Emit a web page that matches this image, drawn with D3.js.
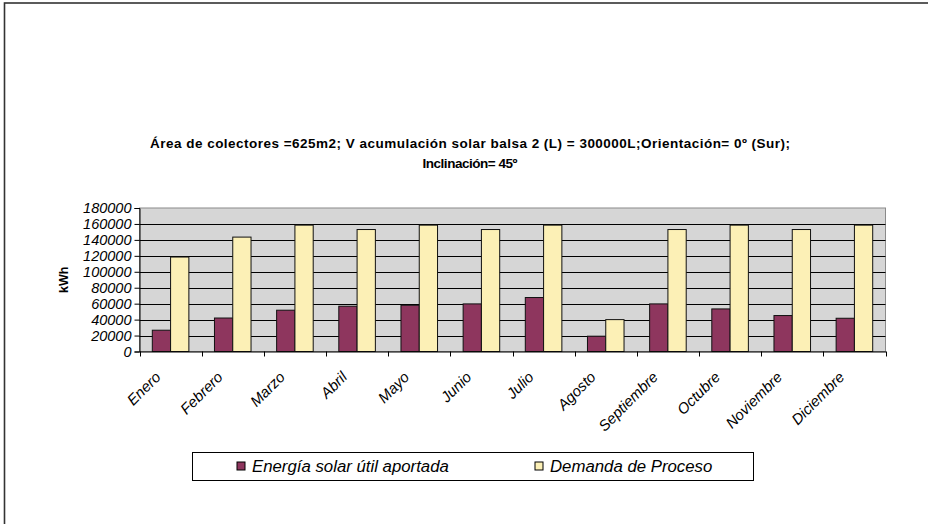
<!DOCTYPE html>
<html><head><meta charset="utf-8">
<script src="https://cdn.jsdelivr.net/npm/d3@7"></script>
<style>body{margin:0;background:#fff}svg{display:block;font-family:"Liberation Sans",Arial,sans-serif}</style>
</head><body><svg id="c" width="928" height="524"></svg>
<script>
const categories = ["Enero","Febrero","Marzo","Abril","Mayo","Junio","Julio","Agosto","Septiembre","Octubre","Noviembre","Diciembre"];
const solarValues = [26700,42000,51800,56800,58000,59700,67700,19200,59700,53400,45100,41700];
const demandValues = [118500,143500,158500,153000,158500,153000,158500,40000,153000,158500,153000,158500];
const seriesNames = ["Energía solar útil aportada","Demanda de Proceso"];
const seriesColors = ["#8E365E","#FCF0B6"];
const yTicks = [0,20000,40000,60000,80000,100000,120000,140000,160000,180000];
const titleLines = ["Área de colectores =625m2; V acumulación solar balsa 2 (L) = 300000L;Orientación= 0º (Sur);","Inclinación= 45º"];

const svg = d3.select("#c");
// outer frame
svg.append("rect").attr("x",4.5).attr("y",3).attr("width",940).attr("height",540)
  .attr("fill","none").attr("stroke","#333").attr("stroke-width",1.6);

const L=139.5, R=885.5, T=208, B=351.5;
const x = d3.scaleBand().domain(categories).range([L,R]).paddingInner(0).paddingOuter(0);
const y = d3.scaleLinear().domain([0,180000]).range([B,T]);
const sub = d3.scaleBand().domain([0,1]).range([0,x.bandwidth()]).paddingInner(0).paddingOuter(0.7);

svg.append("rect").attr("x",L).attr("y",T).attr("width",R-L).attr("height",B-T)
  .attr("fill","#D6D6D6").attr("stroke","#8a8a8a").attr("stroke-width",1);

// gridlines
svg.append("g").selectAll("line").data(yTicks.filter(d=>d>0 && d<180000)).join("line")
  .attr("x1",L).attr("x2",R).attr("y1",d=>Math.round(y(d))+0.5).attr("y2",d=>Math.round(y(d))+0.5)
  .attr("stroke","#000").attr("stroke-width",1);

// bars
const data = categories.map((c,i)=>({c, v:[solarValues[i],demandValues[i]]}));
const g = svg.append("g");
data.forEach(d=>{
  d.v.forEach((v,k)=>{
    g.append("rect").attr("x",x(d.c)+sub(k)).attr("y",y(v)).attr("width",sub.bandwidth()).attr("height",B-y(v))
      .attr("fill",seriesColors[k]).attr("stroke","#111").attr("stroke-width",1);
  });
});

// y axis
const ya = svg.append("g").attr("transform",`translate(${L},0)`)
  .call(d3.axisLeft(y).tickValues(yTicks).tickSize(5).tickPadding(3).tickFormat(d3.format("d")));
ya.select(".domain").attr("stroke","#000");
ya.selectAll(".tick line").attr("stroke","#000");
ya.selectAll("text").attr("font-size",14.5).attr("font-style","italic").attr("fill","#000")
  .attr("font-family","'Liberation Sans',Arial,sans-serif");

// x axis
const xa = svg.append("g").attr("transform",`translate(0,${B})`)
  .call(d3.axisBottom(x).tickSize(0).tickFormat(""));
xa.select(".domain").attr("stroke","#000");
const bounds = categories.map(c=>x(c)).concat([R]);
svg.append("g").selectAll("line").data(bounds).join("line")
  .attr("x1",d=>Math.round(d)+0.5).attr("x2",d=>Math.round(d)+0.5).attr("y1",B).attr("y2",B+5).attr("stroke","#000");
svg.append("g").selectAll("text").data(categories).join("text")
  .attr("transform",d=>`translate(${x(d)+x.bandwidth()/2-9},378) rotate(-45)`)
  .attr("text-anchor","end").attr("font-size",15).attr("font-style","italic").text(d=>d);

// y label
svg.append("text").attr("transform",`translate(68,${(T+B)/2}) rotate(-90)`).attr("text-anchor","middle")
  .attr("font-size",12.5).attr("font-weight","bold").text("kWh");

// title
svg.append("g").selectAll("text").data(titleLines).join("text")
  .attr("x",470).attr("y",(d,i)=>148+i*20).attr("text-anchor","middle").attr("font-size",13.5).attr("font-weight","bold")
  .attr("textLength",(d,i)=>i===0?640:95).attr("lengthAdjust","spacing").text(d=>d);

// legend
svg.append("rect").attr("x",192.5).attr("y",452.5).attr("width",561).attr("height",28).attr("fill","#fff").attr("stroke","#000");
const lx=[237,535];
seriesNames.forEach((n,k)=>{
  svg.append("rect").attr("x",lx[k]).attr("y",462).attr("width",8).attr("height",8).attr("fill",seriesColors[k]).attr("stroke","#000");
  svg.append("text").attr("x",lx[k]+15).attr("y",472).attr("font-size",16.8).attr("font-style","italic").text(n);
});
</script></body></html>
